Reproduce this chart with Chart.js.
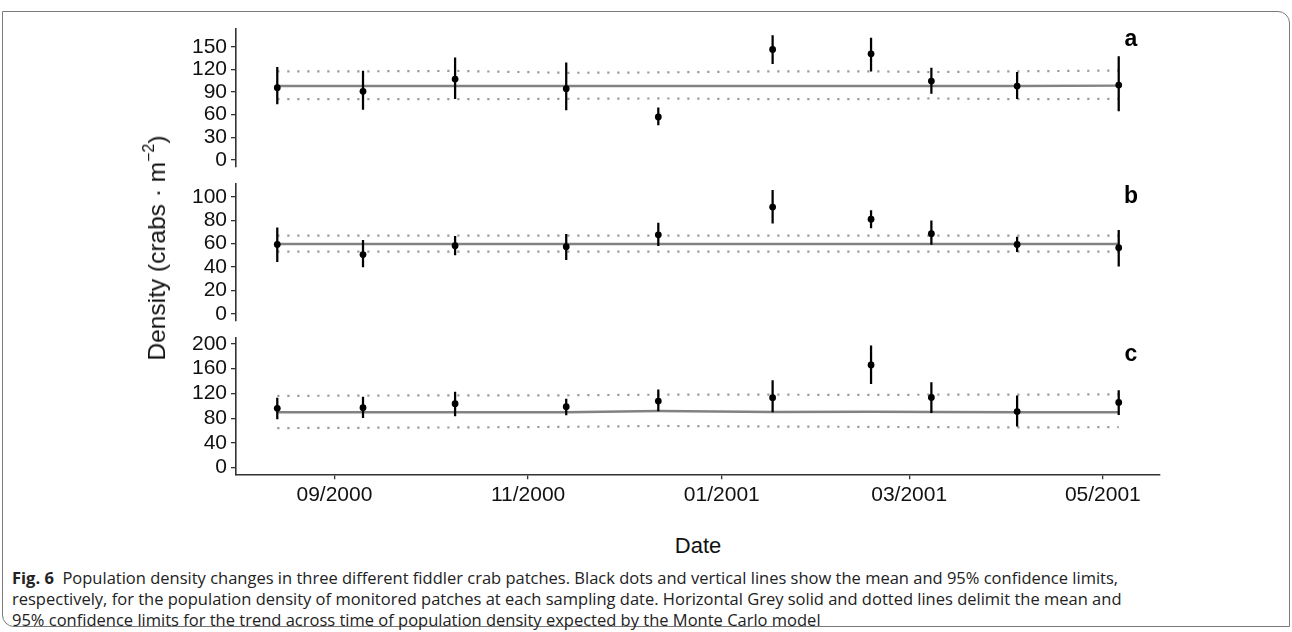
<!DOCTYPE html>
<html>
<head>
<meta charset="utf-8">
<script src="https://cdn.jsdelivr.net/npm/chart.js@4.4.1/dist/chart.umd.min.js"></script>
<style>
html,body{margin:0;padding:0;background:#fff;}
#fig{position:relative;width:1292px;height:632px;overflow:hidden;font-family:"Liberation Sans",Arial,sans-serif;}
.pc{position:absolute;left:0;width:1292px;}
.pc canvas{display:block;}
#frame{position:absolute;left:2px;top:11px;width:1288px;height:616px;border:1.5px solid #7a7a7a;border-radius:0 12px 0 12px;box-sizing:border-box;}
#ytitle{position:absolute;left:157px;top:248px;transform:translate(-50%,-50%) rotate(-90deg);font-size:24.5px;white-space:nowrap;color:#111;}
#ytitle sup{font-size:16px;vertical-align:11px;line-height:0;}
#xtitle{position:absolute;left:698px;top:546px;transform:translate(-50%,-50%);font-size:22px;color:#111;}
#caption{position:absolute;left:12px;top:567px;width:1272px;font-family:"Open Sans",sans-serif;font-size:16.5px;line-height:21px;color:#222;white-space:nowrap;}
#caption b{font-weight:700;}
</style>
</head>
<body>
<div id="fig">
  <div id="frame"></div>
  <div class="pc" style="top:14px;height:167px;"><canvas id="ca"></canvas></div>
  <div class="pc" style="top:169px;height:166px;"><canvas id="cb"></canvas></div>
  <div class="pc" style="top:323px;height:210px;"><canvas id="cc"></canvas></div>
  <div id="ytitle">Density (crabs · m<sup>−2</sup>)</div>
  <div id="xtitle">Date</div>
  <div id="caption"><b>Fig. 6</b>&nbsp; Population density changes in three different fiddler crab patches. Black dots and vertical lines show the mean and 95% confidence limits,<br>respectively, for the population density of monitored patches at each sampling date. Horizontal Grey solid and dotted lines delimit the mean and<br>95% confidence limits for the trend across time of population density expected by the Monte Carlo model</div>
</div>
<script>
// ---- data ----
const dates = ['2000-08-14','2000-09-10','2000-10-09','2000-11-13','2000-12-12','2001-01-17','2001-02-17','2001-03-08','2001-04-04','2001-05-06'];
const tickDates = ['2000-09-01','2000-11-01','2001-01-01','2001-03-01','2001-05-01'];
const tickLabels = ['09/2000','11/2000','01/2001','03/2001','05/2001'];
const xRangeDates = ['2000-08-01','2001-05-19'];

const aMean = [95.7, 90.9, 107.2, 94.4, 56.9, 146.5, 140.7, 104.5, 97.9, 99.3];
const aLow  = [74.1, 67.0, 81.2, 66.2, 46.3, 127.5, 117.8, 88.2, 81.2, 64.9];
const aHigh = [122.7, 117.8, 135.4, 128.8, 69.2, 165.0, 161.5, 121.8, 116.0, 137.2];
const aModel     = [98, 98, 98, 98, 98, 98, 98, 98, 98, 98.5];
const aModelHigh = [117.5, 117.5, 118, 115.5, 116, 117.5, 117.5, 116.5, 117.5, 118.5];
const aModelLow  = [80.5, 80.5, 80.5, 81, 81.5, 80.5, 80.5, 81.5, 80.5, 81];
const aTicks = [0, 30, 60, 90, 120, 150];

const bMean = [59.3, 50.6, 58.2, 57.3, 67.5, 91.2, 80.8, 68.4, 59.3, 56.5];
const bLow  = [44.6, 40.1, 50.3, 46.3, 58.2, 77.4, 73.4, 59.3, 53.1, 40.7];
const bHigh = [73.4, 62.7, 66.1, 67.8, 77.4, 105.4, 88.1, 79.4, 65.5, 71.2];
const bModel     = [59.6, 59.6, 59.6, 59.6, 59.6, 59.6, 59.6, 59.6, 59.6, 59.6];
const bModelHigh = [66.7, 66.7, 66.7, 66.7, 66.7, 66.7, 66.7, 66.7, 66.7, 66.7];
const bModelLow  = [53.1, 53.1, 53.1, 53.1, 53.1, 53.1, 53.1, 53.1, 53.1, 53.1];
const bTicks = [0, 20, 40, 60, 80, 100];

const cMean = [95.9, 97.0, 103.4, 98.6, 107.6, 113.1, 166.1, 113.6, 90.6, 105.5];
const cLow  = [78.7, 81.0, 83.5, 85.1, 91.6, 90.0, 135.6, 89.0, 67.0, 85.8];
const cHigh = [112.4, 114.0, 122.1, 110.8, 125.9, 140.9, 197.1, 137.7, 116.3, 124.8];
const cModel     = [89.5, 89.5, 89.5, 89.5, 91.5, 90, 90.5, 90, 89.5, 89.5];
const cModelHigh = [116, 116.5, 117, 117, 118, 118, 117.5, 118, 118, 118.5];
const cModelLow  = [64, 64.5, 65, 66, 67.5, 66.5, 66, 65.5, 65, 65.5];
const cTicks = [0, 40, 80, 120, 160, 200];

// ---- helpers ----
const day = s => { const [y,m,d] = s.split('-').map(Number); return Date.UTC(y, m-1, d) / 864e5; };
const X = dates.map(day);
const pts = arr => arr.map((v,i) => ({x: X[i], y: v}));
const bars = (lo, hi) => lo.map((v,i) => ({x: X[i], y: [v, hi[i]]}));
const FONT = '"Liberation Sans", Arial, sans-serif';

const panelLabel = {
  id: 'panelLabel',
  afterDatasetsDraw(chart, args, opts) {
    const ctx = chart.ctx, ca = chart.chartArea;
    ctx.save();
    ctx.font = 'bold 23px ' + FONT;
    ctx.fillStyle = '#000';
    ctx.textAlign = 'center';
    ctx.textBaseline = 'alphabetic';
    ctx.fillText(opts.text, ca.right - 29, ca.top + opts.dy);
    ctx.restore();
  }
};

function makePanel(id, mean, lo, hi, model, modelHi, modelLo, ticks, yMin, yMax, label, dy, showX, xHeight) {
  const dotted = {borderColor: '#9a9a9a', borderWidth: 2.2, borderDash: [2.2, 7.8], borderCapStyle: 'butt', pointRadius: 0, tension: 0, fill: false};
  new Chart(document.getElementById(id), {
    type: 'line',
    data: {
      datasets: [
        {type: 'scatter', data: pts(mean), pointRadius: 3.4, pointBackgroundColor: '#000', pointBorderColor: '#000', pointBorderWidth: 0, showLine: false, order: 0},
        {type: 'bar', data: bars(lo, hi), backgroundColor: '#000', barThickness: 1.6, grouped: false, order: 1},
        Object.assign({type: 'line', data: pts(modelHi), order: 3}, dotted),
        Object.assign({type: 'line', data: pts(modelLo), order: 3}, dotted),
        {type: 'line', data: pts(model), borderColor: '#828282', borderWidth: 2.4, pointRadius: 0, tension: 0, fill: false, order: 2}
      ]
    },
    options: {
      responsive: true,
      maintainAspectRatio: false,
      animation: false,
      events: [],
      layout: {padding: {left: 0, right: 132, top: 14, bottom: showX ? 0 : 14}},
      plugins: {legend: {display: false}, tooltip: {enabled: false}, panelLabel: {text: label, dy: dy}},
      scales: {
        x: {
          type: 'linear',
          display: showX,
          offset: false,
          min: day(xRangeDates[0]),
          max: day(xRangeDates[1]),
          afterBuildTicks: s => { s.ticks = tickDates.map(d => ({value: day(d)})); },
          afterFit: s => { if (showX) s.height = xHeight; },
          ticks: {
            autoSkip: false, maxRotation: 0, padding: 3, color: '#111',
            font: {family: FONT, size: 21},
            callback: v => { const i = tickDates.findIndex(d => day(d) === v); return i >= 0 ? tickLabels[i] : ''; }
          },
          grid: {display: true, offset: false, drawOnChartArea: false, drawTicks: true, tickLength: 5, color: '#333', lineWidth: 1.3},
          border: {display: true, color: '#333', width: 1.6}
        },
        y: {
          type: 'linear',
          min: yMin,
          max: yMax,
          afterBuildTicks: s => { s.ticks = ticks.map(v => ({value: v})); },
          afterFit: s => { s.width = 236; },
          ticks: {autoSkip: false, padding: 4, color: '#111', font: {family: FONT, size: 21, lineHeight: 1}},
          grid: {display: true, drawOnChartArea: false, drawTicks: true, tickLength: 5, color: '#333', lineWidth: 1.3},
          border: {display: true, color: '#333', width: 1.6}
        }
      }
    },
    plugins: [panelLabel]
  });
}

makePanel('ca', aMean, aLow, aHigh, aModel, aModelHigh, aModelLow, aTicks, -8.8, 174.3, 'a', 17, false, 0);
makePanel('cb', bMean, bLow, bHigh, bModel, bModelHigh, bModelLow, bTicks, -5.7, 111.3, 'b', 19, false, 0);
makePanel('cc', cMean, cLow, cHigh, cModel, cModelHigh, cModelLow, cTicks, -10.7, 210.4, 'c', 23, true, 58.7);
</script>
</body>
</html>
